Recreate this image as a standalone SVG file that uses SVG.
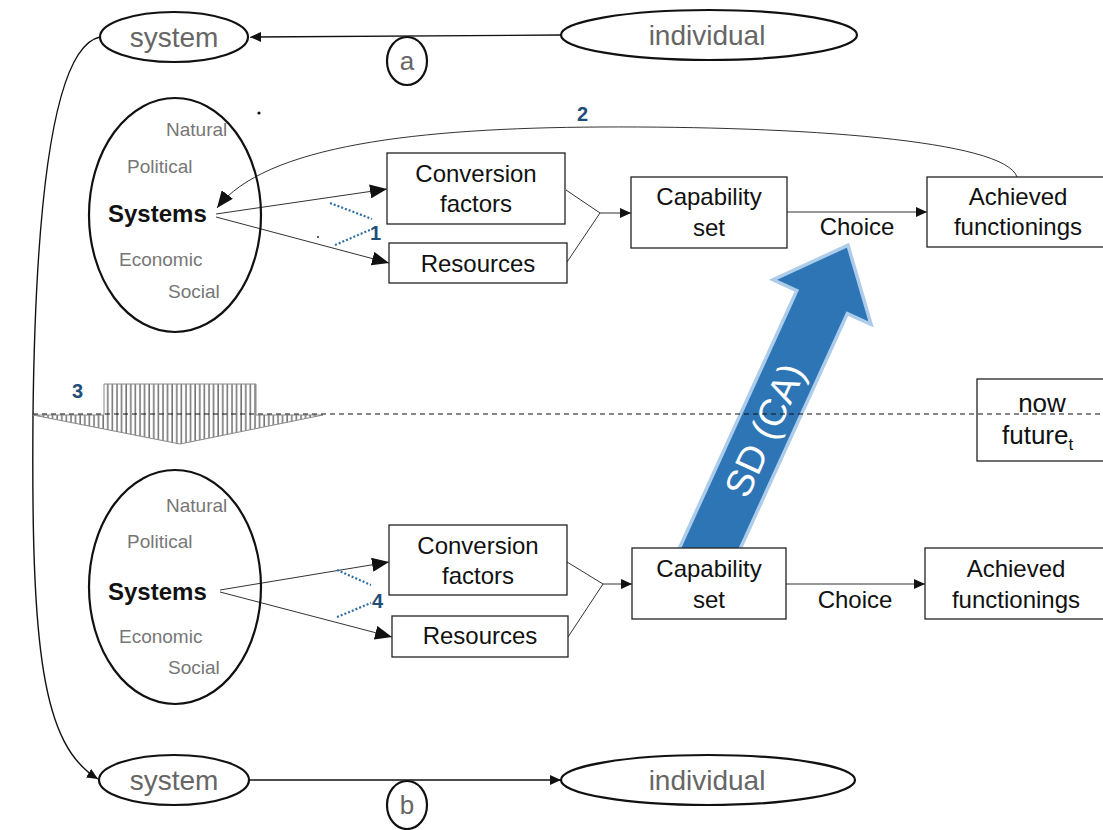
<svg xmlns="http://www.w3.org/2000/svg" width="1103" height="830" viewBox="0 0 1103 830">
<defs>
<style>
.t{font-family:"Liberation Sans",Arial,sans-serif;}
.grey{fill:#666;}
.lbl{font-family:"Liberation Sans",Arial,sans-serif;font-size:24px;fill:#111;text-anchor:middle;}
.sub{font-family:"Liberation Sans",Arial,sans-serif;font-size:19px;fill:#777;}
.sys{font-family:"Liberation Sans",Arial,sans-serif;font-size:24px;font-weight:bold;fill:#111;}
.num{font-family:"Liberation Sans",Arial,sans-serif;font-size:20px;font-weight:bold;fill:#1F4E79;}
.ell{fill:#fff;stroke:#111;stroke-width:2.2;}
.box{fill:#fff;stroke:#222;stroke-width:1.3;}
.ln{fill:none;stroke:#111;stroke-width:1.4;}
.thin{fill:none;stroke:#333;stroke-width:1;}
.dot{fill:none;stroke:#2E6DA4;stroke-width:2.2;stroke-dasharray:2 2;}
</style>
<marker id="ah" markerUnits="userSpaceOnUse" markerWidth="12" markerHeight="10" refX="11" refY="5" orient="auto"><path d="M0,0 L11,5 L0,10 z" fill="#111"/></marker>
<marker id="ahL" markerUnits="userSpaceOnUse" markerWidth="18" markerHeight="14" refX="17" refY="7" orient="auto"><path d="M0,0 L17,7 L0,14 z" fill="#111"/></marker>
<pattern id="hatch" width="4.6" height="10" patternUnits="userSpaceOnUse"><line x1="2" y1="0" x2="2" y2="10" stroke="#777" stroke-width="1.6"/></pattern>
</defs>
<rect width="1103" height="830" fill="#fff"/>

<g id="connectors">
<line class="ln" x1="561" y1="35" x2="250" y2="37" marker-end="url(#ah)"/>
<line class="ln" x1="248" y1="780" x2="561" y2="780" marker-end="url(#ah)"/>
<path class="ln" d="M100,37 C62,45 36,150 33,415 C31,650 42,745 98,779" marker-end="url(#ah)"/>
<path class="thin" d="M1017,177 C1005,140 800,126 600,127 C420,128 265,145 217,208" marker-end="url(#ahL)"/>
<line class="thin" x1="216" y1="214" x2="387" y2="189" marker-end="url(#ahL)"/>
<line class="thin" x1="216" y1="217" x2="389" y2="263" marker-end="url(#ahL)"/>
<polyline class="thin" points="566,190 600,213 567,262"/>
<line class="thin" x1="600" y1="213" x2="631" y2="213" marker-end="url(#ah)"/>
<line class="thin" x1="787" y1="212" x2="927" y2="212" marker-end="url(#ah)"/>
<line class="thin" x1="220" y1="590" x2="389" y2="562" marker-end="url(#ahL)"/>
<line class="thin" x1="220" y1="592" x2="392" y2="637" marker-end="url(#ahL)"/>
<polyline class="thin" points="567,562 603,584 568,637"/>
<line class="thin" x1="603" y1="584" x2="632" y2="584" marker-end="url(#ah)"/>
<line class="thin" x1="786" y1="584" x2="925" y2="584" marker-end="url(#ah)"/>
<line class="dot" x1="330" y1="203" x2="372" y2="219"/>
<line class="dot" x1="335" y1="245" x2="372" y2="229"/>
<line class="dot" x1="337" y1="570" x2="371" y2="585"/>
<line class="dot" x1="337" y1="617" x2="371" y2="603"/>
</g>

<g id="labels">
<text class="num" x="577" y="121">2</text>
<text class="num" x="370" y="240">1</text>
<text class="num" x="372" y="608">4</text>
<text class="num" x="72" y="398">3</text>
<text class="lbl" x="857" y="235">Choice</text>
<text class="lbl" x="855" y="608">Choice</text>
<circle cx="259" cy="113" r="1.6" fill="#111"/>
<circle cx="318" cy="237" r="1" fill="#333"/>
</g>

<g id="hatched-arrow">
<polygon points="104,384 256,384 256,415 323,415 180,444 33,415 104,415" fill="url(#hatch)" stroke="#888" stroke-width="1"/>
</g>

<g id="sd-arrow" transform="translate(710,548) rotate(-65.5)">
<polygon points="-14,-26 272,-26 272,-50 330,0 272,50 272,26 -14,26" fill="#2E75B6" stroke="#9DC3E6" stroke-width="7" stroke-linejoin="miter" stroke-opacity="0.85"/>
<polygon points="-14,-26 272,-26 272,-50 330,0 272,50 272,26 -14,26" fill="#2E75B6"/>
<text class="t" x="130" y="14" font-size="38" fill="#fff" text-anchor="middle">SD (CA)</text>
</g>

<line x1="33" y1="414" x2="1103" y2="414" stroke="#111" stroke-width="1.2" stroke-dasharray="5 4"/>

<g id="system-top">
<ellipse class="ell" cx="174" cy="37" rx="74" ry="25"/>
<text class="t grey" x="174" y="47" font-size="28" text-anchor="middle">system</text>
</g>
<g id="individual-top">
<ellipse class="ell" cx="709" cy="35" rx="148" ry="25"/>
<text class="t grey" x="707" y="45" font-size="28" text-anchor="middle">individual</text>
</g>
<g id="circle-a">
<ellipse class="ell" cx="407" cy="61" rx="20" ry="24" stroke-width="1.8"/>
<text class="t grey" x="407" y="70" font-size="26" text-anchor="middle">a</text>
</g>
<g id="system-bottom">
<ellipse class="ell" cx="174" cy="780" rx="75" ry="25"/>
<text class="t grey" x="174" y="790" font-size="28" text-anchor="middle">system</text>
</g>
<g id="individual-bottom">
<ellipse class="ell" cx="708" cy="780" rx="147" ry="25"/>
<text class="t grey" x="707" y="790" font-size="28" text-anchor="middle">individual</text>
</g>
<g id="circle-b">
<ellipse class="ell" cx="407" cy="805" rx="20" ry="24" stroke-width="1.8"/>
<text class="t grey" x="407" y="814" font-size="26" text-anchor="middle">b</text>
</g>

<g id="systems-top">
<ellipse cx="175" cy="215" rx="86" ry="117" fill="none" stroke="#111" stroke-width="2.2"/>
<text class="sub" x="166" y="136">Natural</text>
<text class="sub" x="127" y="173">Political</text>
<text class="sys" x="108" y="222">Systems</text>
<text class="sub" x="119" y="266">Economic</text>
<text class="sub" x="168" y="298">Social</text>
</g>
<g id="conversion-top">
<rect class="box" x="387" y="153" width="178" height="71"/>
<text class="lbl" x="476" y="182">Conversion</text>
<text class="lbl" x="476" y="212">factors</text>
</g>
<g id="resources-top">
<rect class="box" x="389" y="243" width="178" height="40"/>
<text class="lbl" x="478" y="272">Resources</text>
</g>
<g id="capability-top">
<rect class="box" x="631" y="177" width="156" height="71"/>
<text class="lbl" x="709" y="205">Capability</text>
<text class="lbl" x="709" y="236">set</text>
</g>
<g id="achieved-top">
<rect class="box" x="927" y="177" width="180" height="70"/>
<text class="lbl" x="1018" y="205">Achieved</text>
<text class="lbl" x="1018" y="235">functionings</text>
</g>

<g id="now-future">
<rect x="977" y="379" width="130" height="82" fill="none" stroke="#222" stroke-width="1.3"/>
<text class="t" x="1042" y="412" font-size="26" fill="#111" text-anchor="middle">now</text>
<text class="t" x="1002" y="444" font-size="26" fill="#111">future<tspan font-size="17" dy="6">t</tspan></text>
</g>

<g id="systems-bottom">
<ellipse cx="175" cy="587" rx="86" ry="117" fill="none" stroke="#111" stroke-width="2.2"/>
<text class="sub" x="166" y="512">Natural</text>
<text class="sub" x="127" y="548">Political</text>
<text class="sys" x="108" y="600">Systems</text>
<text class="sub" x="119" y="643">Economic</text>
<text class="sub" x="168" y="674">Social</text>
</g>
<g id="conversion-bottom">
<rect class="box" x="389" y="525" width="178" height="70"/>
<text class="lbl" x="478" y="554">Conversion</text>
<text class="lbl" x="478" y="584">factors</text>
</g>
<g id="resources-bottom">
<rect class="box" x="392" y="616" width="176" height="41"/>
<text class="lbl" x="480" y="644">Resources</text>
</g>
<g id="capability-bottom">
<rect class="box" x="632" y="548" width="154" height="71"/>
<text class="lbl" x="709" y="577">Capability</text>
<text class="lbl" x="709" y="608">set</text>
</g>
<g id="achieved-bottom">
<rect class="box" x="925" y="548" width="182" height="71"/>
<text class="lbl" x="1016" y="577">Achieved</text>
<text class="lbl" x="1016" y="608">functionings</text>
</g>
</svg>
